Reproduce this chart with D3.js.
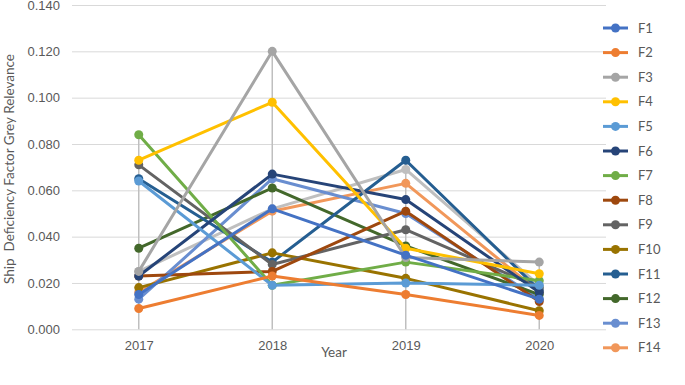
<!DOCTYPE html>
<html>
<head>
<meta charset="utf-8">
<script src="https://cdn.jsdelivr.net/npm/d3@7"></script>
<style>
  body { margin: 0; background: #fff; }
  svg { font-family: Lato, "Open Sans", sans-serif; }
  .tick text { fill: #595959; font-size: 13px; }
  .axis-label { fill: #595959; font-size: 13.5px; }
  .legend text { fill: #595959; font-size: 13px; }
</style>
</head>
<body>
<svg width="685" height="385"></svg>
<script>
const years = ['2017', '2018', '2019', '2020'];
const yTicks = [0, 0.02, 0.04, 0.06, 0.08, 0.10, 0.12, 0.14];

const F1  = [0.015, 0.052, 0.032, 0.013];
const F2  = [0.009, 0.023, 0.015, 0.006];
const F3  = [0.025, 0.120, 0.031, 0.029];
const F4  = [0.073, 0.098, 0.035, 0.024];
const F5  = [0.064, 0.019, 0.020, 0.019];
const F6  = [0.023, 0.067, 0.056, 0.016];
const F7  = [0.084, 0.019, 0.029, 0.021];
const F8  = [0.023, 0.025, 0.051, 0.012];
const F9  = [0.071, 0.028, 0.043, 0.018];
const F10 = [0.018, 0.033, 0.022, 0.008];
const F11 = [0.065, 0.029, 0.073, 0.017];
const F12 = [0.035, 0.061, 0.036, 0.015];
const F13 = [0.013, 0.065, 0.050, 0.013];
const F14 = [0.016, 0.051, 0.063, 0.016];
const F15 = [0.025, 0.052, 0.069, 0.019]; // legend entry is cut off in the picture

const seriesNames = ['F1','F2','F3','F4','F5','F6','F7','F8','F9','F10','F11','F12','F13','F14','F15'];
const seriesValues = [F1,F2,F3,F4,F5,F6,F7,F8,F9,F10,F11,F12,F13,F14,F15];
const colors = ['#4472C4','#ED7D31','#A5A5A5','#FFC000','#5B9BD5','#264478','#70AD47',
  '#9E480E','#636363','#997300','#255E91','#43682B','#698ED0','#F1975A','#BFBFBF'];
const legendCount = 14;

const series = seriesNames.map((name, i) => ({
  name,
  color: colors[i],
  values: seriesValues[i].map((v, j) => ({year: years[j], value: v}))
}));

const svg = d3.select('svg');
const plot = {left: 72, right: 606, top: 5, bottom: 329.3};

const xScale = d3.scalePoint()
  .domain(years)
  .range([plot.left, plot.right])
  .padding(0.5);

const yScale = d3.scaleLinear()
  .domain([0, 0.14])
  .range([plot.bottom, plot.top]);

// gridlines + y labels
const yAxisG = svg.append('g')
  .attr('transform', `translate(${plot.left},0)`)
  .call(d3.axisLeft(yScale)
    .tickValues(yTicks)
    .tickSize(-(plot.right - plot.left))
    .tickPadding(12)
    .tickFormat(d3.format('.3f')));
yAxisG.select('.domain').remove();
yAxisG.selectAll('.tick line').attr('stroke', '#D9D9D9');

const xAxisG = svg.append('g')
  .attr('transform', `translate(0,${plot.bottom})`)
  .call(d3.axisBottom(xScale).tickSize(0).tickPadding(11));
xAxisG.select('.domain').remove();

// drop lines from the highest point of each year
svg.append('g')
  .selectAll('line')
  .data(years)
  .join('line')
    .attr('x1', d => xScale(d))
    .attr('x2', d => xScale(d))
    .attr('y1', (d, j) => yScale(d3.max(seriesValues, s => s[j])))
    .attr('y2', plot.bottom)
    .attr('stroke', '#BFBFBF')
    .attr('stroke-width', 1.5);

const lineGen = d3.line()
  .x(d => xScale(d.year))
  .y(d => yScale(d.value));

const sg = svg.append('g')
  .selectAll('g')
  .data(series.slice().reverse())
  .join('g');

sg.append('path')
  .attr('d', d => lineGen(d.values))
  .attr('fill', 'none')
  .attr('stroke', d => d.color)
  .attr('stroke-width', 3)
  .attr('stroke-linejoin', 'round');

sg.selectAll('circle')
  .data(d => d.values.map(v => ({...v, color: d.color})))
  .join('circle')
    .attr('cx', d => xScale(d.year))
    .attr('cy', d => yScale(d.value))
    .attr('r', 4.5)
    .attr('fill', d => d.color);

svg.append('text')
  .attr('class', 'axis-label')
  .attr('x', 334)
  .attr('y', 357)
  .attr('text-anchor', 'middle')
  .text('Year');

svg.append('text')
  .attr('class', 'axis-label')
  .attr('transform', 'translate(14,169) rotate(-90)')
  .attr('text-anchor', 'middle')
  .style('white-space', 'pre')
  .text('Ship  Deficiency Factor Grey Relevance');

// legend
const legend = svg.append('g')
  .attr('class', 'legend')
  .selectAll('g')
  .data(series.slice(0, legendCount))
  .join('g')
    .attr('transform', (d, i) => `translate(603,${28 + i * 24.6})`);

legend.append('line')
  .attr('x1', 0).attr('x2', 25)
  .attr('stroke', d => d.color)
  .attr('stroke-width', 3);
legend.append('circle')
  .attr('cx', 12.5)
  .attr('r', 4.5)
  .attr('fill', d => d.color);
legend.append('text')
  .attr('x', 35)
  .attr('dy', '0.35em')
  .text(d => d.name);
</script>
</body>
</html>
